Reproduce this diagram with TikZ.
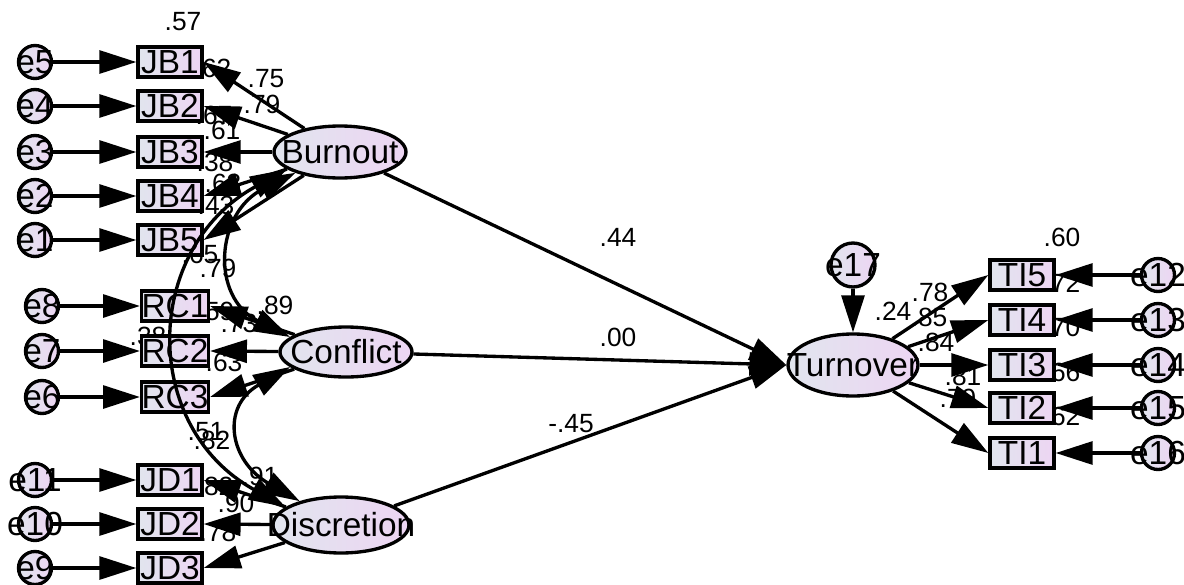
\documentclass[tikz,border=0pt]{standalone}
\usepackage{fontspec}
\setmainfont{Liberation Sans}
\usetikzlibrary{positioning}
\usetikzlibrary{arrows.meta,shapes.geometric}

\definecolor{fillL}{RGB}{225,229,238}
\definecolor{fillR}{RGB}{237,213,243}
\newcommand{\bigtxt}{\fontsize{19}{22}\selectfont}
\newcommand{\esttxt}{\fontsize{15}{17}\selectfont}

\tikzset{
 obs/.style={draw,rectangle,line width=1.9pt,inner sep=0pt,minimum width=1.28cm,
   minimum height=0.6cm,left color=fillL,right color=fillR,font=\bigtxt},
 lat/.style={draw,ellipse,line width=1.9pt,inner sep=0pt,left color=fillL,right color=fillR},
 err/.style={draw,circle,line width=1.9pt,inner sep=0pt,minimum size=0.66cm,
   left color=fillL,right color=fillR},
 every label/.style={font=\bigtxt,inner sep=0pt},
 arr/.style={line width=1.9pt,-{Triangle[length=21pt,width=13pt]}},
 cov/.style={line width=1.9pt,{Triangle[length=21pt,width=13pt]}-{Triangle[length=21pt,width=13pt]}},
 est/.style={font=\esttxt,inner sep=0pt}
}

\begin{document}
\begin{tikzpicture}[x=0.02cm,y=-0.02cm]
 \useasboundingbox (0,0) rectangle (1184,585);
 % estimates (under the arrows)
 \node[est] (r57) at (183,22) {.57};
 \node[est] (r62a) at (213,68) {.62};
 \node[est] (l75) at (266,79) {.75};
 \node[est] (l79a) at (262,104) {.79};
 \node[est] (r87) at (214,115) {.67};
 \node[est] (l61) at (222,130) {.61};
 \node[est] (r38a) at (215,162) {.38};
 \node[est] (l63) at (223,183) {.63};
 \node[est] (r43) at (216,205) {.43};
 \node[est] (r65) at (200,254) {.65};
 \node[est] (l79b) at (218,268) {.79};
 \node[est] (l89) at (275,305) {.89};
 \node[est] (r59) at (216,311) {.59};
 \node[est] (l73) at (239,323) {.73};
 \node[est] (c38) at (148,336) {.38};
 \node[est] (r63) at (224,362) {.63};
 \node[est] (c51) at (206,432) {.51};
 \node[est] (c82) at (212,440) {.82};
 \node[est] (l91) at (260,476) {.91};
 \node[est] (r82) at (215,486) {.82};
 \node[est] (l90) at (236,503) {.90};
 \node[est] (r78) at (218,532) {.78};
 \node[est] (p44) at (618,237) {.44};
 \node[est] (p00) at (618,337) {.00};
 \node[est] (p45) at (571,424) {-.45};
 \node[est] (r60) at (1062,237) {.60};
 \node[est] (r72) at (1062,283) {.72};
 \node[est] (r24) at (893,311) {.24};
 \node[est] (t78) at (930,292) {.78};
 \node[est] (t85) at (929,317) {.85};
 \node[est] (t84) at (936,342) {.84};
 \node[est] (r70) at (1062,327) {.70};
 \node[est] (t81) at (963,376) {.81};
 \node[est] (r66) at (1062,372) {.66};
 \node[est] (t79) at (958,398) {.79};
 \node[est] (r62b) at (1062,416) {.62};

 % latent variables
 \node[lat,minimum width=2.64cm,minimum height=1.04cm,label=center:Burnout] (burn) at (340,152) {};
 \node[lat,minimum width=2.64cm,minimum height=1.0cm,label=center:Conflict] (conf) at (346,352) {};
 \node[lat,minimum width=2.72cm,minimum height=1.12cm,label=center:Discretion] (disc) at (341,525) {};
 \node[lat,minimum width=2.6cm,minimum height=1.24cm,label=center:Turnover] (turn) at (853,365) {};

 % indicators
 \node[obs] (jb1) at (170,62) {JB1};
 \node[obs] (jb2) at (170,106) {JB2};
 \node[obs] (jb3) at (170,152) {JB3};
 \node[obs] (jb4) at (170,196) {JB4};
 \node[obs] (jb5) at (170,240) {JB5};
 \node[obs] (rc1) at (175,306) {RC1};
 \node[obs] (rc2) at (175,351) {RC2};
 \node[obs] (rc3) at (175,397) {RC3};
 \node[obs] (jd1) at (170,480) {JD1};
 \node[obs] (jd2) at (170,524) {JD2};
 \node[obs] (jd3) at (170,568) {JD3};
 \node[obs] (ti5) at (1022,275) {TI5};
 \node[obs] (ti4) at (1022,320) {TI4};
 \node[obs] (ti3) at (1022,365) {TI3};
 \node[obs] (ti2) at (1022,408) {TI2};
 \node[obs] (ti1) at (1022,453) {TI1};

 % error terms
 \node[err,label=center:e5] (e5) at (35,62) {};
 \node[err,label=center:e4] (e4) at (35,106) {};
 \node[err,label=center:e3] (e3) at (35,152) {};
 \node[err,label=center:e2] (e2) at (35,196) {};
 \node[err,label=center:e1] (e1) at (35,240) {};
 \node[err,label=center:e8] (e8) at (42,306) {};
 \node[err,label=center:e7] (e7) at (42,351) {};
 \node[err,label=center:e6] (e6) at (42,397) {};
 \node[err,label=center:e11] (e11) at (35,480) {};
 \node[err,label=center:e10] (e10) at (35,524) {};
 \node[err,label=center:e9] (e9) at (35,568) {};
 \node[err,label=center:e12] (e12) at (1158,275) {};
 \node[err,label=center:e13] (e13) at (1158,320) {};
 \node[err,label=center:e14] (e14) at (1158,365) {};
 \node[err,label=center:e15] (e15) at (1158,408) {};
 \node[err,label=center:e16] (e16) at (1158,453) {};
 \node[err,minimum size=0.88cm,label=center:e17] (e17) at (853,265) {};

 % error arrows
 \draw[arr] (e5) -- (jb1);
 \draw[arr] (e4) -- (jb2);
 \draw[arr] (e3) -- (jb3);
 \draw[arr] (e2) -- (jb4);
 \draw[arr] (e1) -- (jb5);
 \draw[arr] (e8) -- (rc1);
 \draw[arr] (e7) -- (rc2);
 \draw[arr] (e6) -- (rc3);
 \draw[arr] (e11) -- (jd1);
 \draw[arr] (e10) -- (jd2);
 \draw[arr] (e9) -- (jd3);
 \draw[arr] (e12) -- (ti5);
 \draw[arr] (e13) -- (ti4);
 \draw[arr] (e14) -- (ti3);
 \draw[arr] (e15) -- (ti2);
 \draw[arr] (e16) -- (ti1);
 \draw[arr] (e17) -- (turn);

 % loadings
 \draw[arr] (burn) -- (jb1.east);
 \draw[arr] (burn) -- (jb2.east);
 \draw[arr] (burn) -- (jb3.east);
 \draw[arr] (burn) -- (jb4.east);
 \draw[arr] (burn) -- (jb5.east);
 \draw[arr] (conf) -- (rc1.east);
 \draw[arr] (conf) -- (rc2.east);
 \draw[arr] (conf) -- (rc3.east);
 \draw[arr] (disc) -- (jd1.east);
 \draw[arr] (disc) -- (jd2.east);
 \draw[arr] (disc) -- (jd3.east);
 \draw[arr] (turn) -- (ti5.west);
 \draw[arr] (turn) -- (ti4.west);
 \draw[arr] (turn) -- (ti3.west);
 \draw[arr] (turn) -- (ti2.west);
 \draw[arr] (turn) -- (ti1.west);

 % paths
 \draw[arr] (burn) -- (turn.west);
 \draw[arr] (conf) -- (turn.west);
 \draw[arr] (disc) -- (turn.west);

 % covariances
 \draw[cov] (burn.205) .. controls +(-80,40) and +(-80,-40) .. (conf.165);
 \draw[cov] (burn.198) .. controls +(-145,80) and +(-145,-80) .. (disc.162);
 \draw[cov] (conf.195) .. controls +(-70,40) and +(-70,-40) .. (disc.150);
\end{tikzpicture}
\end{document}
